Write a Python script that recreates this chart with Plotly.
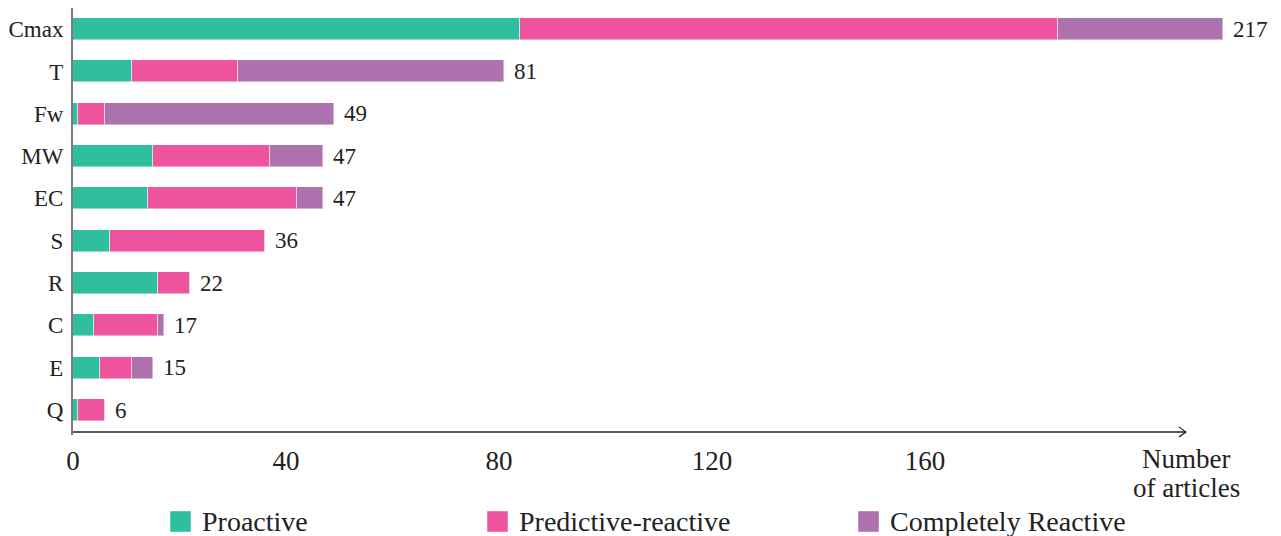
import plotly.graph_objects as go

# ---- data ----
categories = ["Cmax", "T", "Fw", "MW", "EC", "S", "R", "C", "E", "Q"]
proactive = [84, 11, 1, 15, 14, 7, 16, 4, 5, 1]
predictive_reactive = [101, 20, 5, 22, 28, 29, 6, 12, 6, 5]
completely_reactive = [31, 50, 43, 10, 5, 0, 0, 1, 4, 0]
totals = [217, 81, 49, 47, 47, 36, 22, 17, 15, 6]
series_names = ["Proactive", "Predictive-reactive", "Completely Reactive"]
series_colors = ["#2fbf9f", "#ef559f", "#ae72ae"]
x_ticks = [0, 40, 80, 120, 160]
axis_title_lines = ["Number", "of articles"]

FONT = "Liberation Serif"
W_PX, H_PX = 1281, 536
L, R, T, B = 73, 11, 8, 104
PW = W_PX - L - R
PH = H_PX - T - B
UNIT = 5.325  # px per article
XMAX = PW / UNIT
AXIS_END = 209


def px2paper_x(px):
    return (px - L) / PW


def px2paper_y(py):
    return (H_PX - B - py) / PH


fig = go.Figure()
for name, vals, col in zip(series_names, [proactive, predictive_reactive, completely_reactive], series_colors):
    fig.add_trace(go.Bar(
        y=categories, x=vals, orientation="h", name=name,
        marker=dict(color=col, line=dict(color="rgba(255,255,255,0.45)", width=1)),
        width=0.52, showlegend=False, hoverinfo="x+y",
    ))

# total labels
for cat, a, b, c, tot in zip(categories, proactive, predictive_reactive, completely_reactive, totals):
    fig.add_annotation(x=a + b + c, y=cat, text=str(tot), showarrow=False,
                       xanchor="left", xshift=8, yshift=0,
                       font=dict(family=FONT, size=23, color="#222"))

# axis lines
fig.add_shape(type="line", xref="paper", yref="paper",
              x0=px2paper_x(72), x1=px2paper_x(72), y0=px2paper_y(435), y1=1,
              line=dict(color="#333", width=1.3))
fig.add_shape(type="line", xref="x", yref="paper", x0=0, x1=AXIS_END, y0=0, y1=0,
              line=dict(color="#222", width=1.3))
# arrow head
fig.add_shape(type="path", xref="x", yref="paper", xsizemode="pixel", ysizemode="pixel",
              xanchor=AXIS_END, yanchor=0,
              path="M -7,5 Q -2,1.5 0,0 Q -2,-1.5 -7,-5",
              line=dict(color="#222", width=1.2))

# axis title (two lines, tight spacing)
for line_txt, py in zip(axis_title_lines, [459, 488]):
    fig.add_annotation(xref="paper", yref="paper", x=px2paper_x(1186), y=px2paper_y(py),
                       text=line_txt, showarrow=False, xanchor="center", yanchor="middle",
                       font=dict(family=FONT, size=27, color="#222"))

# manual legend
legend_sq_x = [170, 487, 858]
for sx, name, col in zip(legend_sq_x, series_names, series_colors):
    fig.add_shape(type="rect", xref="paper", yref="paper",
                  x0=px2paper_x(sx), x1=px2paper_x(sx + 21),
                  y0=px2paper_y(532), y1=px2paper_y(511),
                  fillcolor=col, line=dict(color="rgba(255,255,255,0.4)", width=1))
    fig.add_annotation(xref="paper", yref="paper", x=px2paper_x(sx + 30), y=px2paper_y(521),
                       text=name, showarrow=False, xanchor="left", yanchor="middle",
                       font=dict(family=FONT, size=28, color="#222"))

fig.update_layout(
    width=W_PX, height=H_PX,
    margin=dict(l=L, r=R, t=T, b=B, pad=0),
    plot_bgcolor="white", paper_bgcolor="white",
    barmode="stack", bargap=0,
    showlegend=False,
    xaxis=dict(range=[0, XMAX], tickvals=x_ticks, ticktext=[str(v) for v in x_ticks],
               showgrid=False, zeroline=False, showline=False,
               ticks="outside", ticklen=5, tickcolor="rgba(0,0,0,0)",
               tickfont=dict(family=FONT, size=27, color="#222")),
    yaxis=dict(categoryorder="array", categoryarray=categories,
               range=[9.52, -0.5], showgrid=False, zeroline=False, showline=False,
               ticks="outside", ticklen=4, tickcolor="rgba(0,0,0,0)",
               tickfont=dict(family=FONT, size=23, color="#222")),
)

fig.write_html("out.html", config={"displayModeBar": False},
               post_script="document.body.style.margin='0';document.body.style.overflow='hidden';")
